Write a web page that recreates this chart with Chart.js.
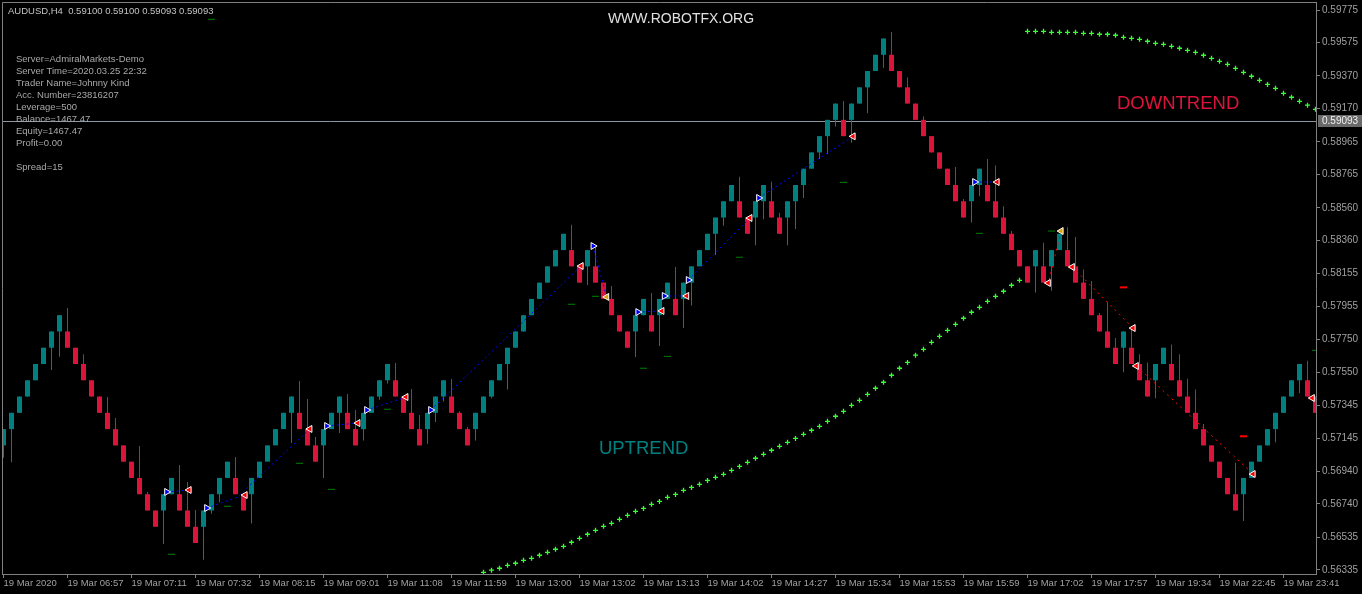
<!DOCTYPE html>
<html><head><meta charset="utf-8">
<script src="https://cdn.jsdelivr.net/npm/chart.js@4.4.1/dist/chart.umd.min.js"></script>
<style>
html,body{margin:0;padding:0;background:#000;}
#wrap{position:relative;width:1362px;height:594px;overflow:hidden;background:#000;}
canvas{position:absolute;left:0;top:0;}
.t{position:absolute;font-family:"Liberation Sans",Arial,sans-serif;white-space:pre;}
</style></head><body>
<div id="wrap">
<canvas id="c" width="1362" height="594"></canvas>
<div class="t" style="left:8px;top:5px;font-size:9.5px;line-height:12px;color:#c4c4c4">AUDUSD,H4  0.59100 0.59100 0.59093 0.59093</div>
<div class="t" style="left:0;width:1362px;text-align:center;top:10px;font-size:14px;line-height:16px;color:#e0e0e0">WWW.ROBOTFX.ORG</div>
<div class="t" style="left:16px;top:53px;font-size:9.5px;line-height:12px;color:#a8a8a8">Server=AdmiralMarkets-Demo
Server Time=2020.03.25 22:32
Trader Name=Johnny Kind
Acc. Number=23816207
Leverage=500
Balance=1467.47
Equity=1467.47
Profit=0.00

Spread=15</div>
<div class="t" style="left:1117px;top:92px;font-size:18.5px;line-height:22px;color:#dc143c">DOWNTREND</div>
<div class="t" style="left:599px;top:437px;font-size:18.5px;line-height:22px;color:#008080">UPTREND</div>
</div>
<script>
// ---- data (renko bricks, one per column) ----
const opens = [0.571,0.572,0.573,0.574,0.575,0.576,0.577,0.578,
0.578,0.577,0.576,0.575,0.574,0.573,0.572,0.571,0.570,0.569,0.568,0.567,
0.567,0.568,
0.568,0.567,0.566,
0.566,0.567,0.568,0.569,
0.569,0.568,
0.568,0.569,0.570,0.571,0.572,0.573,
0.573,0.572,0.571,
0.571,0.572,0.573,
0.573,0.572,
0.572,0.573,0.574,0.575,
0.575,0.574,0.573,0.572,
0.572,0.573,0.574,
0.574,0.573,0.572,
0.572,0.573,0.574,0.575,0.576,0.577,0.578,0.579,0.580,0.581,0.582,0.583,
0.583,0.582,
0.582,
0.582,0.581,0.580,0.579,0.578,
0.578,0.579,
0.579,
0.579,0.580,
0.580,
0.580,0.581,0.582,0.583,0.584,0.585,0.586,
0.586,0.585,
0.585,0.586,
0.586,0.585,
0.585,0.586,0.587,0.588,0.589,0.590,0.591,
0.591,
0.591,0.592,0.593,0.594,0.595,
0.595,0.594,0.593,0.592,0.591,0.590,0.589,0.588,0.587,0.586,
0.586,0.587,
0.587,0.586,0.585,0.584,0.583,0.582,
0.582,
0.582,
0.582,0.583,
0.583,0.582,0.581,0.580,0.579,0.578,0.577,
0.577,
0.577,0.576,0.575,
0.575,0.576,
0.576,0.575,0.574,0.573,0.572,0.571,0.570,0.569,0.568,
0.568,0.569,0.570,0.571,0.572,0.573,0.574,0.575,
0.575,0.574];

const closes = [0.572,0.573,0.574,0.575,0.576,0.577,0.578,0.579,
0.577,0.576,0.575,0.574,0.573,0.572,0.571,0.570,0.569,0.568,0.567,0.566,
0.568,0.569,
0.567,0.566,0.565,
0.567,0.568,0.569,0.570,
0.568,0.567,
0.569,0.570,0.571,0.572,0.573,0.574,
0.572,0.571,0.570,
0.572,0.573,0.574,
0.572,0.571,
0.573,0.574,0.575,0.576,
0.574,0.573,0.572,0.571,
0.573,0.574,0.575,
0.573,0.572,0.571,
0.573,0.574,0.575,0.576,0.577,0.578,0.579,0.580,0.581,0.582,0.583,0.584,
0.582,0.581,
0.583,
0.581,0.580,0.579,0.578,0.577,
0.579,0.580,
0.578,
0.580,0.581,
0.579,
0.581,0.582,0.583,0.584,0.585,0.586,0.587,
0.585,0.584,
0.586,0.587,
0.585,0.584,
0.586,0.587,0.588,0.589,0.590,0.591,0.592,
0.590,
0.592,0.593,0.594,0.595,0.596,
0.594,0.593,0.592,0.591,0.590,0.589,0.588,0.587,0.586,0.585,
0.587,0.588,
0.586,0.585,0.584,0.583,0.582,0.581,
0.583,
0.581,
0.583,0.584,
0.582,0.581,0.580,0.579,0.578,0.577,0.576,
0.578,
0.576,0.575,0.574,
0.576,0.577,
0.575,0.574,0.573,0.572,0.571,0.570,0.569,0.568,0.567,
0.569,0.570,0.571,0.572,0.573,0.574,0.575,0.576,
0.574,0.573];

const highs = [0.572,0.573,0.574,0.575,0.576,0.577,0.578,0.579,
0.57944,0.577,0.5766,0.575,0.574,0.57397,0.57268,0.571,0.570,0.57096,0.56814,0.567,
0.568,0.569,
0.56979,0.56875,0.56703,
0.567,0.568,0.569,0.570,
0.57029,0.568,
0.569,0.570,0.571,0.572,0.573,0.574,
0.57495,0.57385,0.57152,
0.572,0.573,0.574,
0.57416,0.57318,
0.573,0.574,0.575,0.576,
0.57606,0.574,0.57447,0.57287,
0.573,0.574,0.575,
0.57508,0.5731,0.57213,
0.573,0.574,0.575,0.576,0.577,0.578,0.579,0.580,0.581,0.582,0.583,0.584,
0.58455,0.582,
0.583,
0.58317,0.581,0.5808,0.579,0.578,
0.579,0.580,
0.58036,
0.580,0.581,
0.58196,
0.581,0.582,0.583,0.584,0.585,0.586,0.587,
0.5875,0.585,
0.586,0.587,
0.5872,0.5853,
0.586,0.587,0.588,0.589,0.590,0.591,0.592,
0.59216,
0.592,0.593,0.594,0.595,0.596,
0.5964,0.594,0.5936,0.592,0.5912,0.590,0.589,0.588,0.5881,0.58614,
0.587,0.588,
0.5886,0.5882,0.5857,0.58417,0.583,0.582,
0.583,
0.58345,
0.583,0.584,
0.5844,0.5838,0.5818,0.5811,0.57913,0.5798,0.5776,
0.578,
0.5782,0.5766,0.5761,
0.576,0.577,
0.5772,0.5766,0.5751,0.57443,0.57231,0.571,0.570,0.5690,0.56993,
0.569,0.570,0.571,0.572,0.573,0.574,0.575,0.576,
0.5762,0.574];

const lows = [0.57024,0.56996,0.573,0.574,0.575,0.576,0.57563,0.57645,
0.577,0.576,0.575,0.574,0.573,0.572,0.571,0.570,0.569,0.568,0.567,0.566,
0.56494,0.568,
0.567,0.566,0.565,
0.56398,0.5668,0.5675,0.569,
0.568,0.567,
0.5662,0.569,0.57009,0.5713,0.572,0.57115,
0.572,0.571,0.570,
0.569,0.572,0.57176,
0.572,0.571,
0.5713,0.573,0.5738,0.5748,
0.574,0.573,0.572,0.571,
0.5711,0.57244,0.5737,
0.573,0.572,0.571,
0.5713,0.5733,0.5739,0.575,0.57443,0.577,0.578,0.579,0.580,0.581,0.582,0.583,
0.582,0.581,
0.58085,
0.581,0.580,0.579,0.578,0.577,
0.57643,0.579,
0.578,
0.5771,0.580,
0.579,
0.57821,0.5796,0.582,0.583,0.5827,0.5845,0.586,
0.585,0.584,
0.5833,0.5849,
0.585,0.584,
0.5833,0.5843,0.5862,0.588,0.5886,0.5889,0.5906,
0.590,
0.5896,0.592,0.5914,0.594,0.5942,
0.594,0.593,0.592,0.591,0.590,0.589,0.588,0.587,0.586,0.585,
0.5847,0.5863,
0.586,0.585,0.584,0.583,0.582,0.581,
0.5804,
0.581,
0.5805,0.583,
0.582,0.581,0.580,0.579,0.578,0.577,0.576,
0.5755,
0.576,0.575,0.574,
0.5739,0.576,
0.575,0.574,0.573,0.572,0.571,0.570,0.569,0.568,0.567,
0.56635,0.569,0.570,0.571,0.5712,0.573,0.574,0.5742,
0.574,0.573];

// trend indicator dots
const upDotStart = 60;
const upDots = [0.56320,0.56333,0.56345,0.56363,0.56376,0.56394,0.56406,0.56425,0.56443,0.56462,
0.56480,0.56505,0.56529,0.56554,0.56578,0.56603,0.56621,0.56646,0.56670,0.56695,
0.56713,0.56738,0.56756,0.56781,0.56799,0.56824,0.56842,0.56861,0.56885,0.56904,
0.56922,0.56947,0.56971,0.56996,0.57021,0.57045,0.57070,0.57094,0.57119,0.57143,
0.57168,0.57193,0.57217,0.57248,0.57279,0.57309,0.57346,0.57377,0.57414,0.57451,
0.57488,0.57531,0.57574,0.57610,0.57654,0.57690,0.57733,0.57770,0.57807,0.57844,
0.57881,0.57918,0.57948,0.57985,0.58016,0.58047,0.58084,0.58114];
const downDotStart = 128;
const downDots = [0.59644,0.59644,0.59644,0.59638,0.59638,0.59638,0.59638,0.59632,0.59632,0.59626,
0.59626,0.59620,0.59607,0.59601,0.59595,0.59583,0.59570,0.59564,0.59552,0.59540,
0.59527,0.59515,0.59497,0.59478,0.59460,0.59441,0.59417,0.59392,0.59368,0.59343,
0.59318,0.59294,0.59263,0.59239,0.59214,0.59190,0.59165];

// small level marks
const greenMarkX = [21,26,28,37,41,48,71,74,80,83,92,105,122,131,164];
const greenMarkY = [0.56431,0.59718,0.56726,0.56990,0.56830,0.57322,0.57967,0.58016,0.57574,0.57647,0.58256,0.58716,0.58403,0.58417,0.57684];
const redMarkX = [140,155];
const redMarkY = [0.58071,0.57156];

// signal arrows
const blueArrowX = [20.4,25.4,40.4,45.4,53.4,73.7,79.3,82.6,85.6,94.4,121.4];
const blueArrowY = [0.56814,0.56715,0.57219,0.57317,0.57317,0.58325,0.57919,0.58018,0.58116,0.58620,0.58718];
const redArrowX = [23.2,30.2,38.3,44.3,50.3,72.2,82.3,85.4,93.3,106.2,124.2,130.6,133.6,141.2,141.6,156.2,163.6];
const redArrowY = [0.56826,0.56795,0.57201,0.57237,0.57397,0.58202,0.57926,0.58018,0.58497,0.58999,0.58718,0.58098,0.58196,0.57821,0.57588,0.56924,0.57391];
const orangeArrowX = [75.4,132.2];
const orangeArrowY = [0.58012,0.58417];

// dotted signal lines (polylines)
const blueLines = [
 [[20.4,0.56814],[23.2,0.56826]],
 [[25.4,0.56715],[29.2,0.56781],[38.3,0.57201]],
 [[40.4,0.57219],[44.3,0.57237]],
 [[45.4,0.57317],[50.3,0.57397]],
 [[53.4,0.57317],[72.2,0.58202]],
 [[73.7,0.58325],[75.4,0.58012]],
 [[79.3,0.57919],[82.3,0.57926]],
 [[82.6,0.58018],[85.4,0.58018]],
 [[85.6,0.58116],[93.3,0.58497]],
 [[94.4,0.58620],[106.2,0.58999]],
 [[121.4,0.58718],[124.2,0.58718]]
];
const redLines = [
 [[132.2,0.58417],[130.6,0.58098]],
 [[133.6,0.58196],[141.2,0.57821]],
 [[141.6,0.57588],[156.2,0.56924]]
];

const lastPrice = 0.59093;
const yTickVals = [0.59775,0.59575,0.59370,0.59170,0.58965,0.58765,0.58560,0.58360,0.58155,0.57955,0.57750,0.57550,0.57345,0.57145,0.56940,0.56740,0.56535,0.56335];
const xTickPos = [0,8,16,24,32,40,48,56,64,72,80,88,96,104,112,120,128,136,144,152,160];
const xTickLabels = ['19 Mar 2020','19 Mar 06:57','19 Mar 07:11','19 Mar 07:32','19 Mar 08:15','19 Mar 09:01','19 Mar 11:08','19 Mar 11:59','19 Mar 13:00','19 Mar 13:02','19 Mar 13:13','19 Mar 14:02','19 Mar 14:27','19 Mar 15:34','19 Mar 15:53','19 Mar 15:59','19 Mar 17:02','19 Mar 17:57','19 Mar 19:34','19 Mar 22:45','19 Mar 23:41'];

// ---- chart ----
const UP = '#008080', DOWN = '#dc143c';
const idx = opens.map((_, i) => i);
const barColors = idx.map(i => closes[i] >= opens[i] ? UP : DOWN);

function polyData(lines) {
  const out = [];
  lines.forEach(seg => {
    seg.forEach(p => out.push({x: p[0], y: p[1]}));
    out.push({x: seg[seg.length - 1][0], y: null});
  });
  return out;
}
function pts(xs, ys) { return xs.map((x, i) => ({x, y: ys[i]})); }

const extras = {
  id: 'mt4Extras',
  beforeDatasetsDraw(chart) {
    const {ctx, chartArea: a, scales: {y}} = chart;
    const py = Math.round(y.getPixelForValue(lastPrice)) + 0.5;
    ctx.save();
    ctx.strokeStyle = '#8a97a5'; ctx.lineWidth = 1;
    ctx.beginPath(); ctx.moveTo(a.left, py); ctx.lineTo(a.right, py); ctx.stroke();
    ctx.restore();
  },
  afterDraw(chart) {
    const {ctx, chartArea: a, scales: {y}} = chart;
    ctx.save();
    ctx.strokeStyle = '#808080'; ctx.lineWidth = 1;
    ctx.beginPath();
    ctx.moveTo(a.left + 0.5, a.bottom); ctx.lineTo(a.left + 0.5, a.top + 0.5); ctx.lineTo(a.right, a.top + 0.5);
    ctx.stroke();
    const py = Math.round(y.getPixelForValue(lastPrice));
    ctx.fillStyle = '#6a6a6a'; ctx.fillRect(a.right + 2, py - 6, 44, 12);
    ctx.fillStyle = '#f0f0f0'; ctx.font = '10px "Liberation Sans"';
    ctx.textBaseline = 'middle'; ctx.textAlign = 'left';
    ctx.fillText(lastPrice.toFixed(5), a.right + 6, py + 0.5);
    ctx.restore();
  }
};

new Chart(document.getElementById('c'), {
  type: 'bar',
  data: {
    datasets: [
      {label: 'wicks', data: idx.map(i => ({x: i, y: [lows[i], highs[i]]})), backgroundColor: barColors,
       barThickness: 1, grouped: false, borderWidth: 0, inflateAmount: 0, order: 10},
      {label: 'bodies', data: idx.map(i => ({x: i, y: [opens[i], closes[i]]})), backgroundColor: barColors,
       barThickness: 5, grouped: false, borderWidth: 0, inflateAmount: 0, order: 9},
      {type: 'line', label: 'blueLines', data: polyData(blueLines), borderColor: '#0000ff', borderWidth: 1,
       borderDash: [2, 3], pointRadius: 0, spanGaps: false, fill: false, order: 5},
      {type: 'line', label: 'redLines', data: polyData(redLines), borderColor: '#ff0000', borderWidth: 1,
       borderDash: [2, 4], pointRadius: 0, spanGaps: false, fill: false, order: 5},
      {type: 'line', label: 'uptrend', data: upDots.map((v, i) => ({x: upDotStart + i, y: v})), showLine: false,
       pointStyle: 'cross', pointRadius: 2.5, pointBorderWidth: 1.3, pointBorderColor: '#33ff33', pointBackgroundColor: '#33ff33', order: 3},
      {type: 'line', label: 'downtrend', data: downDots.map((v, i) => ({x: downDotStart + i, y: v})), showLine: false,
       pointStyle: 'cross', pointRadius: 2.5, pointBorderWidth: 1.3, pointBorderColor: '#33ff33', pointBackgroundColor: '#33ff33', order: 3},
      {type: 'line', label: 'greenMarks', data: pts(greenMarkX, greenMarkY), showLine: false,
       pointStyle: 'line', pointRadius: 3.5, pointBorderWidth: 1, pointBorderColor: '#008000', order: 4},
      {type: 'line', label: 'redMarks', data: pts(redMarkX, redMarkY), showLine: false,
       pointStyle: 'line', pointRadius: 3.5, pointBorderWidth: 2, pointBorderColor: '#ff0000', order: 4},
      {type: 'line', label: 'blueArrows', data: pts(blueArrowX, blueArrowY), showLine: false,
       pointStyle: 'triangle', pointRotation: 90, pointRadius: 4, pointBorderWidth: 1,
       pointBorderColor: '#ffffff', pointBackgroundColor: '#0000ff', order: 1},
      {type: 'line', label: 'redArrows', data: pts(redArrowX, redArrowY), showLine: false,
       pointStyle: 'triangle', pointRotation: -90, pointRadius: 4, pointBorderWidth: 1,
       pointBorderColor: '#ffffff', pointBackgroundColor: '#ff0000', order: 1},
      {type: 'line', label: 'orangeArrows', data: pts(orangeArrowX, orangeArrowY), showLine: false,
       pointStyle: 'triangle', pointRotation: -90, pointRadius: 4, pointBorderWidth: 1,
       pointBorderColor: '#ffffff', pointBackgroundColor: '#e0a000', order: 1}
    ]
  },
  options: {
    responsive: false, animation: false, devicePixelRatio: 1,
    layout: {autoPadding: false, padding: {left: 2, top: 2, right: 0, bottom: 0}},
    plugins: {legend: {display: false}, tooltip: {enabled: false}},
    events: [],
    scales: {
      x: {
        type: 'linear', position: 'bottom', min: -0.1875, max: 164.0625, offset: false,
        grid: {display: true, drawOnChartArea: false, drawTicks: true, tickLength: 4, color: '#808080', offset: false},
        border: {display: true, color: '#808080'},
        ticks: {autoSkip: false, maxRotation: 0, minRotation: 0, align: 'start', padding: 0, color: '#a0a0a0',
                font: {family: 'Liberation Sans', size: 9.5}, callback: (v, i) => xTickLabels[i]},
        afterBuildTicks: s => { s.ticks = xTickPos.map(v => ({value: v})); },
        afterFit: s => { s.height = 20; s.paddingLeft = 0; s.paddingRight = 0; s.paddingTop = 0; s.paddingBottom = 0; }
      },
      y: {
        type: 'linear', position: 'right', min: 0.563098, max: 0.598242,
        grid: {display: true, drawOnChartArea: false, drawTicks: true, tickLength: 4, color: '#808080'},
        border: {display: true, color: '#808080'},
        ticks: {autoSkip: false, padding: 2, color: '#a0a0a0', font: {family: 'Liberation Sans', size: 10},
                callback: v => Number(v).toFixed(5)},
        afterBuildTicks: s => { s.ticks = yTickVals.map(v => ({value: v})); },
        afterFit: s => { s.width = 46; s.paddingLeft = 0; s.paddingRight = 0; s.paddingTop = 0; s.paddingBottom = 0; }
      }
    }
  },
  plugins: [extras]
});
</script>
</body></html>
